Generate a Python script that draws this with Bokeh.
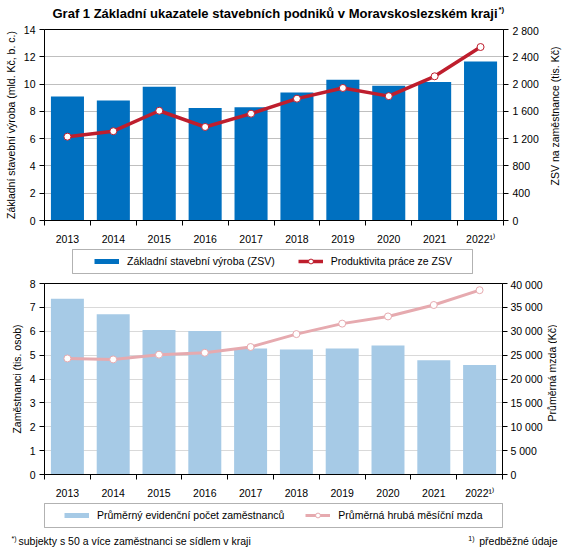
import math
import numpy as np
from bokeh.plotting import figure
from bokeh.models import (Range1d, LinearAxis, FixedTicker, CustomJSTickFormatter,
                          Legend, LegendItem, Label, BoxAnnotation)
from bokeh.layouts import column, row
from bokeh.embed import file_html
from bokeh.resources import INLINE

# ---------------- data ----------------
years = ["2013", "2014", "2015", "2016", "2017", "2018", "2019", "2020", "2021", "2022¹⁾"]
zsv = [9.09, 8.80, 9.80, 8.24, 8.30, 9.38, 10.31, 9.88, 10.16, 11.66]          # mld. Kč
produktivita = [1229, 1309, 1609, 1371, 1566, 1786, 1943, 1823, 2114, 2543]   # tis. Kč
zamestnanci = [7.36, 6.71, 6.05, 6.01, 5.28, 5.24, 5.28, 5.40, 4.79, 4.59]    # tis. osob
mzda = [24300, 24100, 25100, 25500, 26700, 29400, 31600, 33100, 35500, 38600]  # Kč

left1_ticks = [0, 2, 4, 6, 8, 10, 12, 14]
right1_ticks = [0, 400, 800, 1200, 1600, 2000, 2400, 2800]
left2_ticks = [0, 1, 2, 3, 4, 5, 6, 7, 8]
right2_ticks = [0, 5000, 10000, 15000, 20000, 25000, 30000, 35000, 40000]

FONT = "Liberation Sans"
FS = "10.5px"
xs = [i + 0.5 for i in range(len(years))]

BLUE = "#0070C0"
RED = "#BE1E2D"
LBLUE = "#A6CAE6"
PINK = "#E6AAAF"


def thousands():
    return CustomJSTickFormatter(code="""
const s = Math.round(tick).toString();
return s.replace(/\\B(?=(\\d{3})+(?!\\d))/g, " ");
""")


def base_fig(width, height, left_ticks, right_ticks, top, right_border, grid_color,
             left_label, right_standoff):
    p = figure(width=width, height=height,
               x_range=Range1d(0, len(years)), y_range=Range1d(left_ticks[0], left_ticks[-1]),
               output_backend="svg", toolbar_location=None,
               min_border_left=44, min_border_right=right_border,
               min_border_top=top, min_border_bottom=22,
               background_fill_color="white", border_fill_color="white",
               outline_line_color="black", outline_line_width=1)
    xa = p.xaxis[0]
    xa.ticker = FixedTicker(ticks=xs, minor_ticks=list(range(len(years) + 1)))
    xa.formatter = CustomJSTickFormatter(args=dict(labels=years),
                                         code="return labels[Math.floor(tick)];")
    xa.major_tick_out = 0
    xa.major_tick_in = 0
    xa.minor_tick_out = 5
    xa.minor_tick_in = 0
    xa.minor_tick_line_color = "black"
    xa.axis_line_color = "black"
    xa.major_label_standoff = 7
    xa.major_label_text_font = FONT
    xa.major_label_text_font_size = FS
    xa.major_label_text_color = "black"

    ya = p.yaxis[0]
    ya.ticker = FixedTicker(ticks=left_ticks, minor_ticks=[])
    ya.major_tick_out = 5
    ya.major_tick_in = 0
    ya.major_tick_line_color = "black"
    ya.axis_line_color = "black"
    ya.major_label_standoff = 4
    ya.major_label_text_font = FONT
    ya.major_label_text_font_size = FS
    ya.major_label_text_color = "black"
    ya.axis_label = left_label
    ya.axis_label_standoff = 4
    ya.axis_label_text_font = FONT
    ya.axis_label_text_font_size = FS
    ya.axis_label_text_font_style = "normal"
    ya.axis_label_text_color = "black"

    p.xgrid.visible = False
    p.ygrid.ticker = FixedTicker(ticks=left_ticks, minor_ticks=[])
    p.ygrid.grid_line_color = grid_color
    p.ygrid.grid_line_width = 1

    p.extra_y_ranges = {"r": Range1d(right_ticks[0], right_ticks[-1])}
    ra = LinearAxis(y_range_name="r", ticker=FixedTicker(ticks=right_ticks, minor_ticks=[]),
                    formatter=thousands())
    ra.major_tick_out = 5
    ra.major_tick_in = 0
    ra.major_tick_line_color = "black"
    ra.axis_line_color = "black"
    ra.major_label_standoff = right_standoff
    ra.major_label_text_font = FONT
    ra.major_label_text_font_size = FS
    ra.major_label_text_color = "black"
    p.add_layout(ra, "right")
    return p


def text_fig(w, h):
    f = figure(width=w, height=h, x_range=Range1d(0, w), y_range=Range1d(0, h),
               x_axis_type=None, y_axis_type=None, output_backend="svg",
               toolbar_location=None, min_border=0, outline_line_color=None,
               background_fill_color="white", border_fill_color="white")
    f.grid.visible = False
    return f


def label(p, x, y, text, size=FS, align="left", bold=False, angle=0.0, baseline="middle"):
    p.add_layout(Label(x=x, y=y, text=text, text_font=FONT, text_font_size=size,
                       text_font_style="bold" if bold else "normal", angle=angle,
                       text_align=align, text_baseline=baseline, text_color="black"))


def legend_fig(w, h, box, loc, spacing, bar_color, line_color, line_width, labels):
    f = text_fig(w, h)
    nan = np.array([np.nan])
    d_bar = f.line(x=nan, y=nan, line_color=bar_color, line_width=5)
    d_line = f.line(x=nan, y=nan, line_color=line_color, line_width=line_width)
    d_pt = f.scatter(x=nan, y=nan, size=5, fill_color="white", line_color=line_color,
                     line_width=1)
    lg = Legend(items=[LegendItem(label=labels[0], renderers=[d_bar]),
                       LegendItem(label=labels[1], renderers=[d_line, d_pt])],
                orientation="horizontal", location=loc,
                border_line_alpha=0, background_fill_alpha=0,
                padding=6, spacing=spacing, margin=0,
                glyph_width=25, glyph_height=12, label_height=12, label_standoff=8,
                label_text_font=FONT, label_text_font_size=FS, label_text_color="black")
    f.add_layout(lg)
    left, right, top, bottom = box
    f.add_layout(BoxAnnotation(left=left, right=right, top=top, bottom=bottom,
                               fill_alpha=0, line_color="black", line_width=1))
    return f


# ---------------- title ----------------
title = text_fig(567, 24)
label(title, 52, 11.5, "Graf 1 Základní ukazatele stavebních podniků v Moravskoslezském  kraji",
      size="13px", bold=True)
label(title, 498, 15, "*)", size="8px", bold=True)

# ---------------- Graf 1 (top) ----------------
p1 = base_fig(546, 223, left1_ticks, right1_ticks, 5, 43, "#BFBFBF",
              "Základní stavební výroba (mld. Kč, b. c.)", 4)
p1.vbar(x=xs, top=zsv, width=0.72, fill_color=BLUE, line_color=None)
p1.line(xs, produktivita, y_range_name="r", line_color=RED, line_width=3.5)
p1.scatter(xs, produktivita, y_range_name="r", size=7, fill_color="white",
           line_color=RED, line_width=1)
rl1 = text_fig(16, 223)
label(rl1, 8, 122, "ZSV na zaměstnance (tis. Kč)", align="center", angle=math.pi / 2)

leg1 = legend_fig(567, 31, (72, 472, 29, 5), (88, 5), 23, BLUE, RED, 3.5,
                  ["Základní stavební výroba (ZSV)", "Produktivita práce ze ZSV"])

# ---------------- bottom chart ----------------
p2 = base_fig(545, 223, left2_ticks, right2_ticks, 5, 42, "#D9D9D9",
              "Zaměstnanci (tis. osob)", 3)
p2.vbar(x=xs, top=zamestnanci, width=0.72, fill_color=LBLUE, line_color=None)
p2.line(xs, mzda, y_range_name="r", line_color=PINK, line_width=3)
p2.scatter(xs, mzda, y_range_name="r", size=7, fill_color="white",
           line_color=PINK, line_width=1)
rl2 = text_fig(12, 223)
label(rl2, 6, 118.5, "Průměrná mzda (Kč)", align="center", angle=math.pi / 2)

leg2 = legend_fig(567, 47, (44, 502, 45, 21), (58, 21), 21, LBLUE, PINK, 3,
                  ["Průměrný evidenční počet zaměstnanců", "Průměrná hrubá měsíční mzda"])
label(leg2, 11, 10.5, "*)", size="7px")
label(leg2, 18, 8, "subjekty s 50 a více zaměstnanci se sídlem v kraji")
label(leg2, 474, 10.5, "1)", size="7px", align="right")
label(leg2, 557, 8, "předběžné údaje", align="right")

layout = column(title, row(p1, rl1, spacing=0), leg1, row(p2, rl2, spacing=0), leg2,
                spacing=0)
open("out.html", "w").write(file_html(layout, INLINE))
